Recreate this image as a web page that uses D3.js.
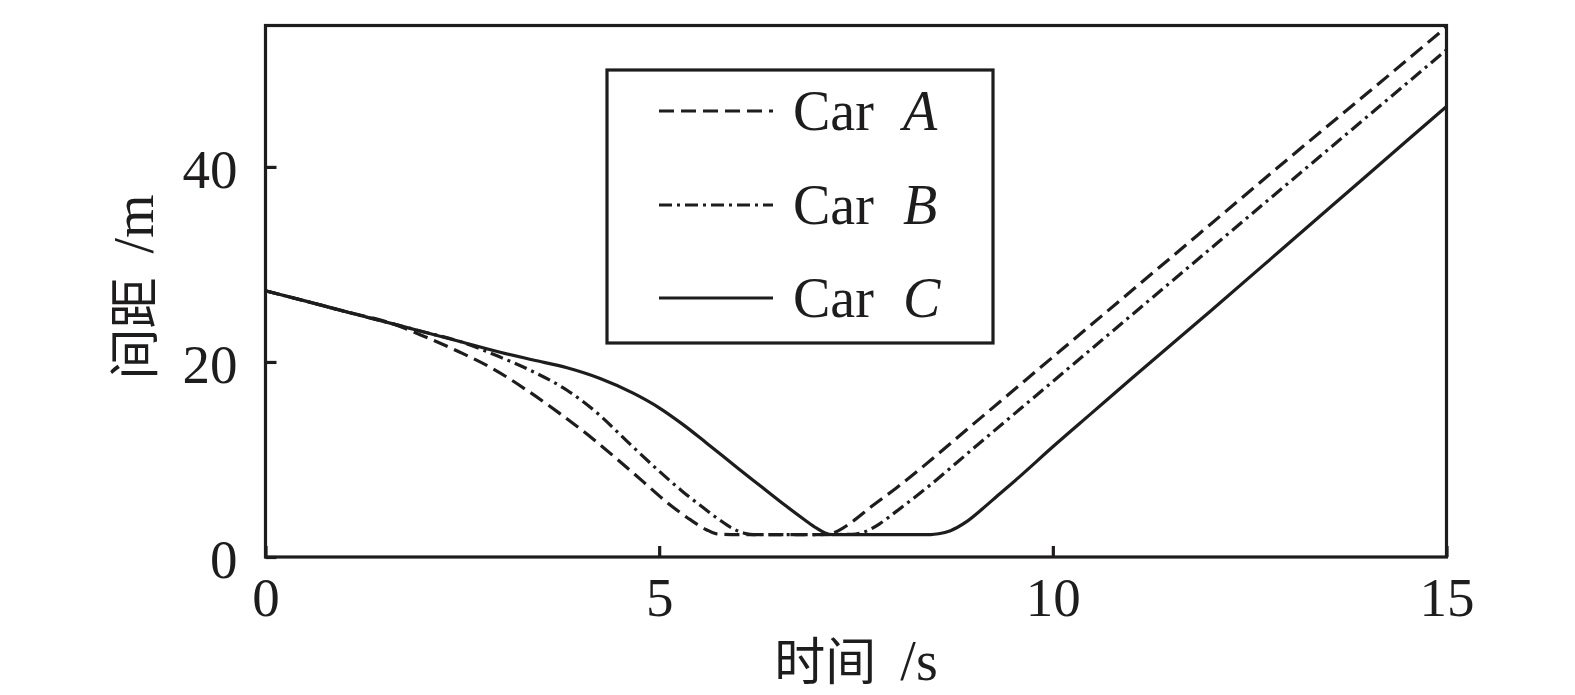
<!DOCTYPE html>
<html>
<head>
<meta charset="utf-8">
<script src="https://cdn.jsdelivr.net/npm/d3@7"></script>
<style>
  html, body { margin: 0; padding: 0; background: #fff; }
  svg { display: block; }
</style>
</head>
<body>
<svg id="chart" width="1575" height="695"></svg>
<script>
// ---- data ----
const xTicks = [0, 5, 10, 15];
const yTicks = [0, 20, 40];
const seriesNames = ["Car", "Car", "Car"];
const seriesLetters = ["A", "B", "C"];

const timeA = [0, 0.5, 1.0, 1.62, 2.05, 2.47, 2.89, 3.32, 3.74, 4.16, 4.5, 4.8, 5.1, 5.4, 5.6, 5.75, 6.0, 6.5, 7.0, 7.1, 7.25, 7.45, 7.7, 8.0, 9.0, 10.0, 11.0, 12.0, 13.0, 14.0, 15.0];
const distA = [27.3, 26.26, 25.2, 23.9, 22.5, 21.0, 19.3, 17.1, 14.7, 12.1, 9.8, 7.7, 5.6, 3.8, 2.8, 2.35, 2.3, 2.3, 2.3, 2.32, 2.6, 3.6, 5.2, 7.0, 13.7, 20.5, 27.3, 34.1, 40.9, 47.6, 54.35];

const timeB = [0, 0.5, 1.0, 1.62, 2.0, 2.47, 2.98, 3.4, 3.83, 4.25, 4.6, 5.0, 5.3, 5.52, 5.75, 5.94, 6.1, 6.2, 6.6, 7.0, 7.45, 7.6, 7.8, 8.0, 8.4, 9.0, 10.0, 11.0, 12.0, 13.0, 14.0, 15.0];
const distB = [27.3, 26.26, 25.2, 23.9, 23.1, 22.1, 20.5, 19.0, 17.1, 14.5, 11.8, 8.8, 6.7, 5.3, 3.9, 2.9, 2.4, 2.3, 2.3, 2.3, 2.32, 2.55, 3.4, 4.6, 7.1, 11.2, 18.0, 24.8, 31.6, 38.4, 45.2, 52.0];

const timeC = [0, 0.5, 1.0, 1.62, 2.0, 2.47, 2.98, 3.4, 3.83, 4.25, 4.67, 5.0, 5.3, 5.6, 6.0, 6.3, 6.6, 6.85, 7.0, 7.1, 7.2, 7.6, 8.0, 8.45, 8.55, 8.7, 8.9, 9.1, 9.3, 9.6, 10.0, 10.5, 11.0, 12.0, 13.0, 14.0, 15.0];
const distC = [27.3, 26.26, 25.2, 23.9, 23.1, 22.1, 21.0, 20.2, 19.4, 18.3, 16.8, 15.3, 13.6, 11.7, 9.1, 7.2, 5.3, 3.8, 2.95, 2.5, 2.3, 2.3, 2.3, 2.3, 2.38, 2.7, 3.6, 4.9, 6.3, 8.4, 11.3, 14.8, 18.3, 25.2, 32.2, 39.2, 46.2];

const xTitleCJK = "时间";
const xTitleUnit = "/s";
const yTitleCJK = "间距";
const yTitleUnit = "/m";

// ---- layout ----
const ink = "#1e1c1d";
const L = 265.5, R = 1446.5, T = 25.5, B = 557;
const SW = 3.2;
const svg = d3.select("#chart");
const x = d3.scaleLinear().domain([0, 15]).range([L, R]);
const y = d3.scaleLinear().domain([0, 54.5]).range([B, T]);

const serifFont = "'Liberation Serif', 'Times New Roman', serif";
const cjkFont = "'Noto Sans CJK SC', 'Noto Sans CJK JP', sans-serif";

// axes
const xAxis = d3.axisBottom(x).tickValues(xTicks).tickFormat(d3.format("d"))
  .tickSizeInner(-11).tickSizeOuter(0).tickPadding(20);
const gx = svg.append("g").attr("transform", `translate(0,${B})`).call(xAxis);
const yAxis = d3.axisLeft(y).tickValues(yTicks).tickFormat(d3.format("d"))
  .tickSizeInner(-11).tickSizeOuter(0).tickPadding(28);
const gy = svg.append("g").attr("transform", `translate(${L},0)`).call(yAxis);
[gx, gy].forEach(g => {
  g.select(".domain").remove();
  g.selectAll(".tick line").attr("stroke", ink).attr("stroke-width", SW);
  g.selectAll(".tick text").attr("fill", ink)
    .style("font-family", serifFont).style("font-size", "55px");
});
gy.selectAll(".tick text").attr("dy", "0.38em");

// frame
svg.append("rect").attr("x", L).attr("y", T).attr("width", R - L).attr("height", B - T)
  .attr("fill", "none").attr("stroke", ink).attr("stroke-width", SW);

// lines
const dashes = ["15,7", "13,5,3,5", null];
const series = [
  timeA.map((t, i) => [t, distA[i]]),
  timeB.map((t, i) => [t, distB[i]]),
  timeC.map((t, i) => [t, distC[i]])
];
const line = d3.line().x(d => x(d[0])).y(d => y(d[1])).curve(d3.curveMonotoneX);
series.forEach((s, i) => {
  svg.append("path").datum(s).attr("d", line)
    .attr("fill", "none").attr("stroke", ink).attr("stroke-width", SW)
    .attr("stroke-dasharray", dashes[i]);
});

// legend
svg.append("rect").attr("x", 607).attr("y", 70).attr("width", 386).attr("height", 273)
  .attr("fill", "#fff").attr("stroke", ink).attr("stroke-width", SW);
const rowY = [111, 205, 298];
seriesLetters.forEach((letter, i) => {
  svg.append("line").attr("x1", 659).attr("x2", 773).attr("y1", rowY[i]).attr("y2", rowY[i])
    .attr("stroke", ink).attr("stroke-width", SW).attr("stroke-dasharray", dashes[i]);
  svg.append("text").attr("x", 793).attr("y", rowY[i] + 19)
    .style("font-family", serifFont).style("font-size", "56px").attr("fill", ink)
    .text(seriesNames[i]);
  svg.append("text").attr("x", 903).attr("y", rowY[i] + 19)
    .style("font-family", serifFont).style("font-size", "56px").style("font-style", "italic")
    .attr("fill", ink).text(letter);
});

// axis titles
const xt = svg.append("text").attr("x", 856).attr("y", 680).attr("text-anchor", "middle").attr("fill", ink);
xt.append("tspan").style("font-family", cjkFont).style("font-size", "51px").text(xTitleCJK);
xt.append("tspan").attr("dx", 24).style("font-family", serifFont).style("font-size", "56px").text(xTitleUnit);

const yt = svg.append("text").attr("transform", "translate(153,287) rotate(-90)")
  .attr("text-anchor", "middle").attr("fill", ink);
yt.append("tspan").style("font-family", cjkFont).style("font-size", "51px").text(yTitleCJK);
yt.append("tspan").attr("dx", 24).style("font-family", serifFont).style("font-size", "56px").text(yTitleUnit);
</script>
</body>
</html>
